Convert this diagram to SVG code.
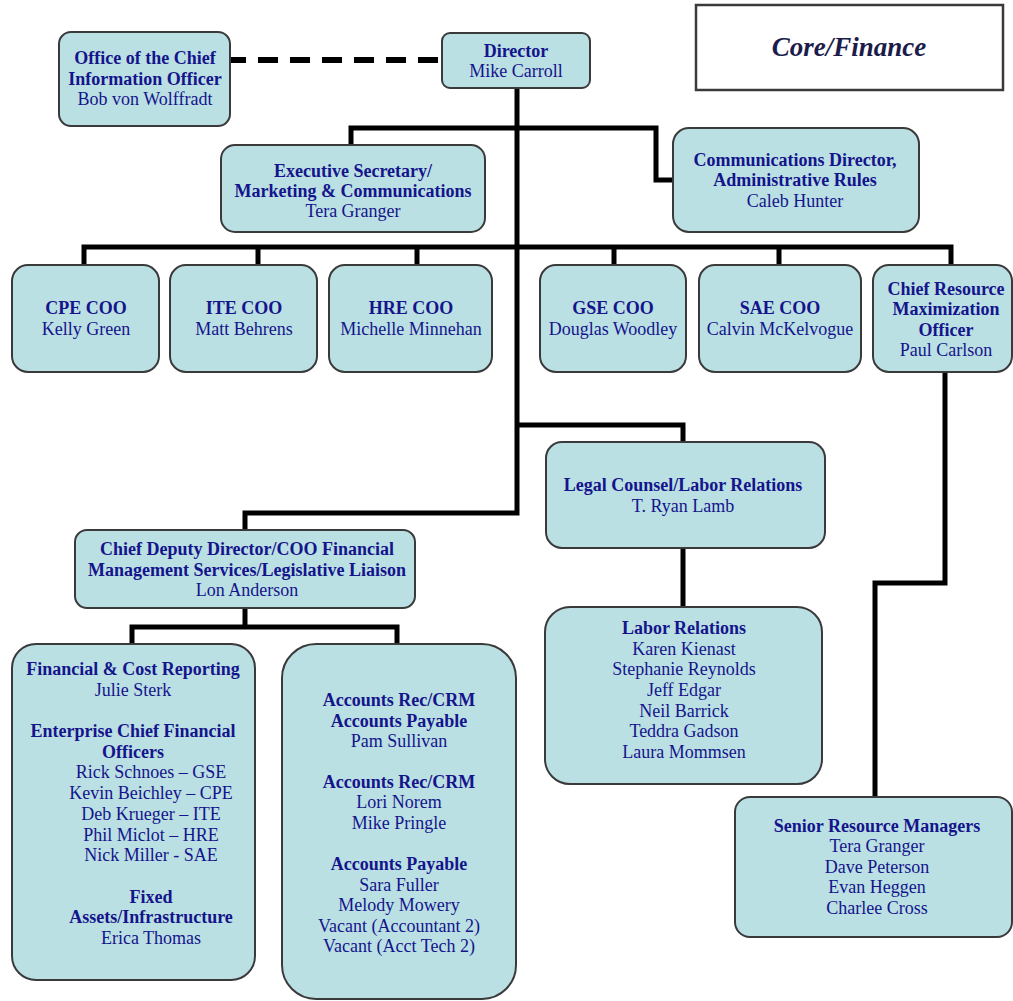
<svg xmlns="http://www.w3.org/2000/svg" width="1013" height="1001" viewBox="0 0 1013 1001">
<style>
.box{fill:#bbe0e3;stroke:#3a3a3a;stroke-width:2}
.t{font-family:"Liberation Serif","Times New Roman",serif;font-size:18px;fill:#14148c;text-anchor:middle}
.b{font-weight:bold}
.conn{fill:none;stroke:#000;stroke-width:5;stroke-linejoin:miter}
.dash{fill:none;stroke:#000;stroke-width:6;stroke-dasharray:20 12}
</style>
<rect width="1013" height="1001" fill="#fff"/>
<g id="connectors">
<path class="dash" d="M226 60 H441"/>
<path class="conn" d="M517 88 V513 H245 V530"/>
<path class="conn" d="M351 145 V128 H656 V180 H673"/>
<path class="conn" d="M84 265 V247 H951 V265"/>
<path class="conn" d="M258 247 V265 M417 247 V265 M614 247 V265 M779 247 V265"/>
<path class="conn" d="M517 425 H683 V442"/>
<path class="conn" d="M683 548 V607"/>
<path class="conn" d="M245 608 V627"/>
<path class="conn" d="M132 644 V627 H397 V644"/>
<path class="conn" d="M945 372 V583 H875 V797"/>
</g>
<g id="core-finance">
<rect x="696" y="5" width="307" height="85" fill="#fff" stroke="#3a3a3a" stroke-width="2.5"/>
<text x="849" y="56" style="font-family:'Liberation Serif','Times New Roman',serif;font-size:27px;font-style:italic;font-weight:bold;fill:#1c1c4a;text-anchor:middle">Core/Finance</text>
</g>
<g id="cio">
<rect class="box" x="59" y="32" width="171" height="94" rx="12"/>
<text class="t b" x="145" y="64">Office of the Chief</text>
<text class="t b" x="145" y="85">Information Officer</text>
<text class="t" x="145" y="105">Bob von Wolffradt</text>
</g>
<g id="director">
<rect class="box" x="442" y="33" width="148" height="55" rx="8"/>
<text class="t b" x="516" y="57">Director</text>
<text class="t" x="516" y="77">Mike Carroll</text>
</g>
<g id="exec-secretary">
<rect class="box" x="221" y="145" width="264" height="87" rx="14"/>
<text class="t b" x="353" y="177">Executive Secretary/</text>
<text class="t b" x="353" y="197">Marketing &amp; Communications</text>
<text class="t" x="353" y="217">Tera Granger</text>
</g>
<g id="comm-director">
<rect class="box" x="673" y="128" width="246" height="104" rx="16"/>
<text class="t b" x="795" y="166">Communications Director,</text>
<text class="t b" x="795" y="186">Administrative Rules</text>
<text class="t" x="795" y="207">Caleb Hunter</text>
</g>
<g id="cpe">
<rect class="box" x="12" y="265" width="147" height="107" rx="16"/>
<text class="t b" x="86" y="314">CPE COO</text>
<text class="t" x="86" y="335">Kelly Green</text>
</g>
<g id="ite">
<rect class="box" x="170" y="265" width="147" height="107" rx="16"/>
<text class="t b" x="244" y="314">ITE COO</text>
<text class="t" x="244" y="335">Matt Behrens</text>
</g>
<g id="hre">
<rect class="box" x="329" y="265" width="163" height="107" rx="16"/>
<text class="t b" x="411" y="314">HRE COO</text>
<text class="t" x="411" y="335">Michelle Minnehan</text>
</g>
<g id="gse">
<rect class="box" x="540" y="265" width="146" height="107" rx="16"/>
<text class="t b" x="613" y="314">GSE COO</text>
<text class="t" x="613" y="335">Douglas Woodley</text>
</g>
<g id="sae">
<rect class="box" x="699" y="265" width="162" height="107" rx="16"/>
<text class="t b" x="780" y="314">SAE COO</text>
<text class="t" x="780" y="335">Calvin McKelvogue</text>
</g>
<g id="chief-resource">
<rect class="box" x="873" y="265" width="139" height="107" rx="16"/>
<text class="t b" x="946" y="295">Chief Resource</text>
<text class="t b" x="946" y="315">Maximization</text>
<text class="t b" x="946" y="336">Officer</text>
<text class="t" x="946" y="356">Paul Carlson</text>
</g>
<g id="legal">
<rect class="box" x="546" y="442" width="279" height="106" rx="16"/>
<text class="t b" x="683" y="491">Legal Counsel/Labor Relations</text>
<text class="t" x="683" y="512">T. Ryan Lamb</text>
</g>
<g id="chief-deputy">
<rect class="box" x="75" y="530" width="340" height="78" rx="12"/>
<text class="t b" x="247" y="555">Chief Deputy Director/COO Financial</text>
<text class="t b" x="247" y="576">Management Services/Legislative Liaison</text>
<text class="t" x="247" y="596">Lon Anderson</text>
</g>
<g id="labor-relations">
<rect class="box" x="545" y="607" width="277" height="177" rx="25"/>
<text class="t b" x="684" y="634">Labor Relations</text>
<text class="t" x="684" y="655">Karen Kienast</text>
<text class="t" x="684" y="675">Stephanie Reynolds</text>
<text class="t" x="684" y="696">Jeff Edgar</text>
<text class="t" x="684" y="717">Neil Barrick</text>
<text class="t" x="684" y="737">Teddra Gadson</text>
<text class="t" x="684" y="758">Laura Mommsen</text>
</g>
<g id="senior-resource">
<rect class="box" x="735" y="797" width="277" height="140" rx="15"/>
<text class="t b" x="877" y="832">Senior Resource Managers</text>
<text class="t" x="877" y="852">Tera Granger</text>
<text class="t" x="877" y="873">Dave Peterson</text>
<text class="t" x="877" y="893">Evan Heggen</text>
<text class="t" x="877" y="914">Charlee Cross</text>
</g>
<g id="financial-reporting">
<rect class="box" x="12" y="644" width="243" height="336" rx="24"/>
<text class="t b" x="133" y="675">Financial &amp; Cost Reporting</text>
<text class="t" x="133" y="696">Julie Sterk</text>
<text class="t b" x="133" y="737">Enterprise Chief Financial</text>
<text class="t b" x="133" y="758">Officers</text>
<text class="t" x="151" y="778">Rick Schnoes – GSE</text>
<text class="t" x="151" y="799">Kevin Beichley – CPE</text>
<text class="t" x="151" y="820">Deb Krueger – ITE</text>
<text class="t" x="151" y="841">Phil Miclot – HRE</text>
<text class="t" x="151" y="861">Nick Miller - SAE</text>
<text class="t b" x="151" y="903">Fixed</text>
<text class="t b" x="151" y="923">Assets/Infrastructure</text>
<text class="t" x="151" y="944">Erica Thomas</text>
</g>
<g id="accounts">
<rect class="box" x="282" y="644" width="234" height="355" rx="34"/>
<text class="t b" x="399" y="706">Accounts Rec/CRM</text>
<text class="t b" x="399" y="727">Accounts Payable</text>
<text class="t" x="399" y="747">Pam Sullivan</text>
<text class="t b" x="399" y="788">Accounts Rec/CRM</text>
<text class="t" x="399" y="808">Lori Norem</text>
<text class="t" x="399" y="829">Mike Pringle</text>
<text class="t b" x="399" y="870">Accounts Payable</text>
<text class="t" x="399" y="891">Sara Fuller</text>
<text class="t" x="399" y="911">Melody Mowery</text>
<text class="t" x="399" y="932">Vacant (Accountant 2)</text>
<text class="t" x="399" y="952">Vacant (Acct Tech 2)</text>
</g>
</svg>
